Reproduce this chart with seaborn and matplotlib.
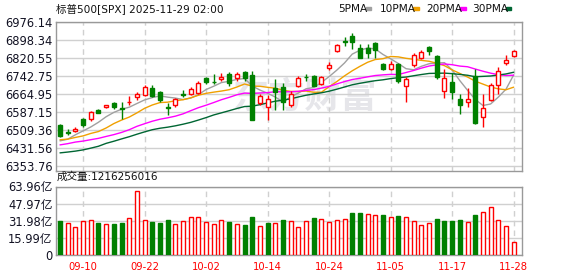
import numpy as np
import pandas as pd
import matplotlib
matplotlib.use('Agg')
import matplotlib.pyplot as plt
import seaborn as sns
from matplotlib.patches import Rectangle

# ---------------- data ----------------
dates = ['09-05','09-08','09-09','09-10','09-11','09-12','09-15','09-16','09-17','09-18',
         '09-19','09-22','09-23','09-24','09-25','09-26','09-29','09-30','10-01','10-02',
         '10-03','10-06','10-07','10-08','10-09','10-10','10-13','10-14','10-15','10-16',
         '10-17','10-20','10-21','10-22','10-23','10-24','10-27','10-28','10-29','10-30',
         '10-31','11-03','11-04','11-05','11-06','11-07','11-10','11-11','11-12','11-13',
         '11-14','11-17','11-18','11-19','11-20','11-21','11-24','11-25','11-26','11-28']
opens = [6530,6498,6506,6554,6556,6594,6609,6626,6604,6628,
         6652,6660,6690,6672,6608,6616,6664,6664,6669,6733,
         6718,6728,6752,6735,6760,6745,6626,6606,6690,6695,
         6616,6697,6738,6743,6706,6776,6852,6892,6917,6864,
         6864,6885,6795,6771,6795,6699,6791,6821,6870,6831,
         6677,6715,6642,6630,6741,6563,6640,6702,6798,6828]
highs = [6533,6511,6520,6560,6592,6600,6618,6630,6630,6655,
         6672,6702,6702,6677,6626,6649,6680,6695,6719,6740,
         6752,6755,6760,6760,6765,6766,6664,6659,6731,6712,
         6678,6743,6752,6748,6742,6802,6881,6912,6927,6880,
         6880,6888,6798,6809,6798,6736,6842,6855,6874,6834,
         6773,6755,6666,6692,6774,6663,6712,6781,6834,6853]
lows = [6478,6487,6498,6520,6549,6580,6605,6600,6554,6615,
        6638,6655,6652,6628,6573,6608,6650,6659,6666,6709,
        6706,6722,6700,6720,6722,6550,6616,6551,6594,6594,
        6606,6694,6722,6698,6702,6770,6846,6874,6860,6821,
        6820,6822,6768,6767,6710,6631,6782,6816,6834,6730,
        6646,6643,6577,6609,6535,6521,6632,6666,6791,6826]
closes = [6482,6495,6512,6532,6587,6584,6615,6606,6600,6631,
          6664,6693,6656,6637,6604,6644,6661,6688,6711,6715,
          6716,6740,6714,6753,6735,6552,6654,6644,6671,6629,
          6664,6735,6736,6699,6738,6791,6875,6891,6890,6822,
          6840,6855,6771,6796,6720,6728,6832,6846,6851,6737,
          6734,6672,6617,6642,6540,6602,6705,6766,6813,6849]
# closes of the 29 sessions before the first visible one (feed the moving averages)
prior_closes = [6389,6390,6371,6362,6339,6238,6330,6299,6345,6340,
                6389,6374,6446,6466,6469,6449,6449,6411,6396,6370,
                6467,6439,6465,6481,6502,6460,6416,6448,6502]
volumes = [32.1,30.0,26.3,31.8,32.8,30.3,29.0,29.4,30.3,34.6,
           60.0,32.8,31.2,30.3,33.1,29.0,31.8,35.5,35.5,31.2,
           29.0,32.4,30.9,28.7,28.1,35.5,26.9,30.0,29.7,32.8,
           31.5,26.0,31.5,34.6,33.4,30.9,32.4,33.4,39.2,39.2,
           38.0,37.1,37.4,35.2,36.5,35.2,31.5,27.8,29.7,33.7,
           31.8,31.8,32.8,30.6,37.4,39.9,44.5,32.4,26.9,12.16]
price_ticks = [6353.76,6431.56,6509.36,6587.15,6664.95,6742.75,6820.55,6898.34,6976.14]
vol_ticks = [0,15.99,31.98,47.97,63.96]
vol_tick_labels = ['0','15.99亿','31.98亿','47.97亿','63.96亿']
label_dates = ['09-10','09-22','10-02','10-14','10-24','11-05','11-17','11-28']
ma_periods = [5,10,20,30]
ma_names = ['5PMA','10PMA','20PMA','30PMA']
ma_colors = ['#a0a0a0','#f0a000','#ff00ff','#006633']
title = '标普500[SPX] 2025-11-29 02:00'
vol_title = '成交量:1216256016'

# ---------------- style ----------------
sns.set_style('white')
plt.rcParams['font.family'] = ['DejaVu Sans', 'Noto Sans CJK SC']

RED = '#ff0000'
GREEN = '#008000'
GRID = '#d0d0d0'
FRAME = '#999999'
W, H = 578, 276
BW = 0.52

fig = plt.figure(figsize=(W/100, H/100), dpi=100)
fig.patch.set_facecolor('white')

def ax_rect(l, t, r, b):
    return [l/W, 1-b/H, (r-l)/W, (b-t)/H]

ax = fig.add_axes(ax_rect(56, 22, 522, 171))
axv = fig.add_axes(ax_rect(56, 186.5, 522, 255))

n = len(dates)
x = np.arange(n)
tick_pos = [dates.index(d) for d in label_dates]

# ---- watermark ----
ax.text(305, H-97, '东方财富', transform=None, fontsize=26, fontweight='bold',
        color='#e6e6ea', ha='center', va='center', family=['Noto Sans CJK SC'], zorder=0)

# ---- moving averages ----
all_close = pd.Series(prior_closes + closes, dtype=float)
for p, nm, c in zip(ma_periods, ma_names, ma_colors):
    ma = all_close.rolling(p).mean().iloc[len(prior_closes):].to_numpy()
    sns.lineplot(x=x, y=ma, ax=ax, color=c, linewidth=1.0, zorder=2)

# ---- candles ----
o = np.array(opens, float); c_ = np.array(closes, float)
h = np.array(highs, float); l = np.array(lows, float)
up = c_ >= o
cols = np.where(up, RED, GREEN)
ax.vlines(x, l, h, colors=cols, linewidth=1.0, zorder=3)
body_bottom = np.minimum(o, c_)
body_h = np.maximum(np.abs(c_ - o), 0.5)
ax.bar(x, body_h, bottom=body_bottom, width=BW,
       color=np.where(up, 'white', GREEN), edgecolor=cols, linewidth=1.0, zorder=4)

ax.set_xlim(-0.52, 60.08)
ax.set_ylim(6331, 6976.14)
ax.set_yticks(price_ticks)
ax.set_yticklabels([f'{t:.2f}' for t in price_ticks])
ax.set_xticks(tick_pos)
ax.set_xticklabels([])
ax.tick_params(axis='both', length=0)
ax.tick_params(axis='y', pad=2.5, labelsize=8.3, labelcolor='#111122')
ax.yaxis.grid(True, color=GRID, linewidth=1.0, linestyle='-')
ax.xaxis.grid(True, color=GRID, linewidth=1.0, linestyle=(0, (4, 3)))
ax.set_axisbelow(True)
for s in ax.spines.values():
    s.set_color(FRAME); s.set_linewidth(1.0)
ax.set_xlabel(''); ax.set_ylabel('')

# ---- volume ----
prev = np.array([prior_closes[-1]] + closes[:-1], float)
vup = c_ >= prev
vcols = np.where(vup, RED, GREEN)
axv.bar(x, volumes, width=BW, color=np.where(vup, 'white', GREEN),
        edgecolor=vcols, linewidth=1.0, zorder=3)
axv.set_xlim(-0.52, 60.08)
axv.set_ylim(0, 63.96)
axv.set_yticks(vol_ticks)
axv.set_yticklabels(vol_tick_labels)
axv.set_xticks(tick_pos)
axv.set_xticklabels(label_dates)
axv.tick_params(axis='both', length=0)
axv.tick_params(axis='y', pad=2.5, labelsize=8.3, labelcolor='#111122')
axv.tick_params(axis='x', pad=5, labelsize=7.2, labelcolor=RED)
axv.yaxis.grid(True, color=GRID, linewidth=1.0, linestyle='-')
axv.xaxis.grid(True, color=GRID, linewidth=1.0, linestyle=(0, (4, 3)))
axv.set_axisbelow(True)
for s in axv.spines.values():
    s.set_color(FRAME); s.set_linewidth(1.0)

# ---- titles ----
fig.text(56/W, 1-9/H, title, fontsize=7.6, color='#111111', ha='left', va='center')
fig.text(57/W, 1-177/H, vol_title, fontsize=7.6, color='#111111', ha='left', va='center')

# ---- legend ----
leg_x = [338, 380, 426, 472]
sq_x = [365.5, 413.3, 460, 505.7]
for nm, c, tx, sx in zip(ma_names, ma_colors, leg_x, sq_x):
    fig.text(tx/W, 1-8.5/H, nm, fontsize=7.6, color='#111111', ha='left', va='center')
    fig.patches.append(Rectangle((sx/W, 1-10.3/H), 5.5/W, 3.3/H,
                                 transform=fig.transFigure, color=c, figure=fig))

fig.savefig('out.png', dpi=100, facecolor='white')
